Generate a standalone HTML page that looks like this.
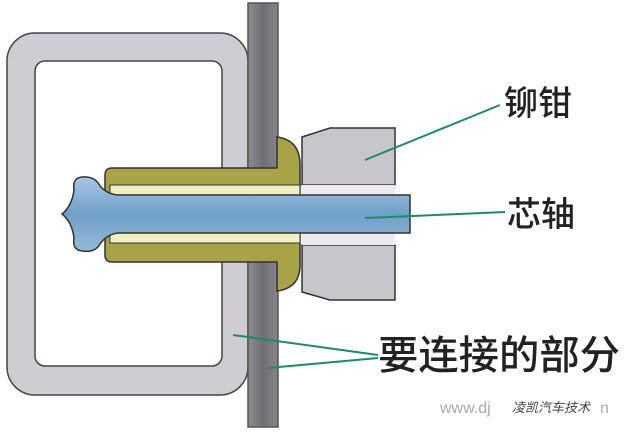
<!DOCTYPE html>
<html><head><meta charset="utf-8"><style>
body{margin:0;width:624px;height:430px;background:#fff;overflow:hidden;}
</style></head><body>
<svg width="624" height="430" viewBox="0 0 624 430" xmlns="http://www.w3.org/2000/svg">
<defs>
<linearGradient id="m" x1="0" y1="0" x2="0" y2="1"><stop offset="0" stop-color="#a9c7e2"/><stop offset="0.5" stop-color="#6f9fc8"/><stop offset="1" stop-color="#98b9d8"/></linearGradient>
<linearGradient id="p" x1="0" y1="0" x2="1" y2="0"><stop offset="0" stop-color="#8a8a90"/><stop offset="0.5" stop-color="#6e6e74"/><stop offset="1" stop-color="#85858b"/></linearGradient>
</defs>
<path fill-rule="evenodd" d="M35,33 H220 A28,28 0 0 1 248,61 V367 A28,28 0 0 1 220,395 H35 A28,28 0 0 1 7,367 V61 A28,28 0 0 1 35,33 Z M45,61 H212 A10,10 0 0 1 222,71 V356 A10,10 0 0 1 212,366 H45 A10,10 0 0 1 35,356 V71 A10,10 0 0 1 45,61 Z" fill="#cfcdd3" stroke="#444" stroke-width="1.5"/>
<rect x="248" y="3" width="30" height="424" fill="url(#p)" stroke="#555" stroke-width="1.5"/>
<path d="M302,137 L330,128 H395 V185 H302 Z" fill="#c8c6cc" stroke="#333" stroke-width="1.5"/>
<path d="M302,245 H395 V300 H330 L302,292 Z" fill="#c8c6cc" stroke="#333" stroke-width="1.5"/>
<rect x="302" y="185" width="93" height="60" fill="#ececf0"/>
<path d="M112,168 H277 V137 Q300,140 300,165 V265 Q300,288 277,291 V262 H112 Q105,262 105,255 V175 Q105,168 112,168 Z" fill="#a9a347" stroke="#333" stroke-width="1.5"/>
<rect x="110" y="185" width="190" height="10" fill="#f2efc4" stroke="#333" stroke-width="1"/>
<rect x="110" y="233" width="190" height="10" fill="#f2efc4" stroke="#333" stroke-width="1"/>
<path d="M120,195 H410 V233 H120 Q108,233 100,244 Q95,253 82,251 Q72,250 74,238 Q72,222 62,214 Q72,206 74,190 Q72,178 82,177 Q95,176 100,186 Q108,195 120,195 Z" fill="url(#m)" stroke="#333" stroke-width="1.5"/>
<g stroke="#1f8a6a" stroke-width="2">
<line x1="365" y1="160" x2="500" y2="105"/>
<line x1="365" y1="218" x2="505" y2="212"/>
<line x1="233" y1="335" x2="378" y2="355"/>
<line x1="268" y1="368" x2="378" y2="358"/>
</g>
<g font-family="'Liberation Sans','Noto Sans CJK SC',sans-serif" font-size="34" font-weight="500" fill="#222">
<text x="504" y="115">铆钳</text>
<text x="507" y="226">芯轴</text>
<text x="378" y="369" font-size="40" textLength="242" lengthAdjust="spacingAndGlyphs">要连接的部分</text>
</g>
<text x="440" y="413" font-family="'Liberation Sans','Noto Sans CJK SC',sans-serif" font-size="16" fill="#aaa">www.dj</text>
<text x="512" y="412" font-family="'Liberation Sans','Noto Sans CJK SC',sans-serif" font-size="13" fill="#444" font-style="italic">凌凯汽车技术</text>
<text x="600" y="413" font-family="'Liberation Sans',sans-serif" font-size="16" fill="#aaa">n</text>
</svg>
</body></html>
